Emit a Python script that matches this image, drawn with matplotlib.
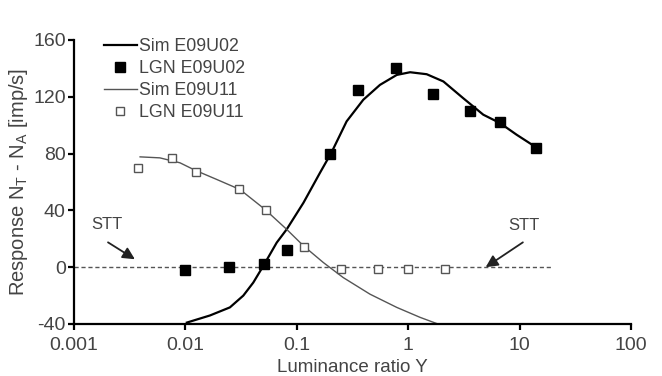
import matplotlib
matplotlib.use("Agg")
import matplotlib.pyplot as plt
from matplotlib.lines import Line2D

plt.rcParams['font.family'] = ['Liberation Sans', 'DejaVu Sans']
plt.rcParams['axes.unicode_minus'] = False

# Data
sim02_x = [0.0103, 0.0166, 0.0251, 0.0331, 0.0407, 0.051, 0.066, 0.0812, 0.1148, 0.1615, 0.2055,
           0.28, 0.395, 0.558, 0.789, 1.04, 1.466, 2.07, 3.12, 4.72, 6.67, 9.4, 13.7]
sim02_y = [-39, -34, -28.3, -20, -10.8, 2, 17.3, 26.7, 45.4, 66.5, 81,
           102.7, 117.9, 128.4, 135.4, 137.3, 135.9, 130.8, 119, 107.4, 101.5, 93.3, 85]

lgn02_x = [0.01, 0.0245, 0.051, 0.082, 0.2, 0.354, 0.78, 1.67, 3.6, 6.7, 14.0]
lgn02_y = [-2, 0, 2, 12, 80, 125, 140, 122, 110, 102, 84]

sim11_x = [0.00392, 0.0059, 0.00895, 0.0122, 0.0191, 0.0309, 0.0518, 0.081, 0.115, 0.173,
           0.261, 0.454, 0.789, 1.276, 1.85]
sim11_y = [77.7, 77, 73.5, 68.3, 61.8, 54.7, 40.7, 26.7, 15, 3.3,
           -7.3, -19, -28.3, -35.3, -40]

lgn11_x = [0.00376, 0.0076, 0.0124, 0.0303, 0.053, 0.116, 0.249, 0.535, 1.0, 2.14]
lgn11_y = [70, 77, 67, 55, 40, 14, -1.5, -1.5, -1.5, -1.5]

stt_x = [0.001, 20]
stt_y = [0, 0]

# STT labels: text position, arrow start, arrow tip
stt_text = [(0.00198, 30), (11, 29.5)]
stt_from = [(0.00202, 17.5), (10.7, 17.5)]
stt_tip = [(0.00352, 5.6), (4.96, 0)]

xticks = [0.001, 0.01, 0.1, 1, 10, 100]
xticklabels = ['0.001', '0.01', '0.1', '1', '10', '100']
yticks = [-40, 0, 40, 80, 120, 160]

txt = '#444444'

fig = plt.figure(figsize=(6.62, 3.76), dpi=100)
ax = fig.add_axes([74/662, 1-324/376, (631-74)/662, (324-40)/376])

ax.plot(stt_x, stt_y, ls=(0, (3, 2)), color='#555555', lw=1.0, zorder=1)
ax.plot(sim02_x, sim02_y, color='black', lw=1.6, zorder=2)
ax.plot(sim11_x, sim11_y, color='#555555', lw=1.0, zorder=2)
ax.plot(lgn02_x, lgn02_y, ls='none', marker='s', ms=6.8, mfc='black', mec='black', zorder=3)
ax.plot(lgn11_x, lgn11_y, ls='none', marker='s', ms=6.2, mfc='white', mec='#555555', mew=1.0, zorder=3)

ax.set_xscale('log')
ax.set_xlim(0.001, 100)
ax.set_ylim(-40, 160)
ax.set_xticks(xticks)
ax.set_xticklabels(xticklabels)
ax.minorticks_off()
ax.set_yticks(yticks)

for s in ['top', 'right']:
    ax.spines[s].set_visible(False)
for s in ['left', 'bottom']:
    ax.spines[s].set_linewidth(1.6)
ax.tick_params(axis='both', direction='out', length=4, width=1.6, labelsize=14, colors='black', labelcolor=txt)
ax.tick_params(axis='x', pad=5)
ax.tick_params(axis='y', pad=2)

ax.set_ylabel(r'Response N$_\mathregular{T}$ - N$_\mathregular{A}$ [imp/s]', fontsize=14.5, color=txt, labelpad=2)
ax.set_xlabel('Luminance ratio Y', fontsize=13.5, color=txt, labelpad=4)

# STT annotations
for (tx, ty), (fx, fy), (px, py) in zip(stt_text, stt_from, stt_tip):
    ax.text(tx, ty, 'STT', fontsize=12, color=txt, ha='center', va='center')
    ax.annotate('', xy=(px, py), xytext=(fx, fy),
                arrowprops=dict(arrowstyle='-|>', color='#222222', lw=1.3, mutation_scale=18,
                                shrinkA=0, shrinkB=0))

handles = [
    Line2D([], [], color='black', lw=1.6),
    Line2D([], [], ls='none', marker='s', ms=6.8, mfc='black', mec='black'),
    Line2D([], [], color='#555555', lw=1.0),
    Line2D([], [], ls='none', marker='s', ms=6.2, mfc='white', mec='#555555'),
]
labels = ['Sim E09U02', 'LGN E09U02', 'Sim E09U11', 'LGN E09U11']
leg = ax.legend(handles, labels, loc='upper left', bbox_to_anchor=(95/662, 1-29/376),
                bbox_transform=fig.transFigure, frameon=False, fontsize=12.8,
                handlelength=1.85, handletextpad=0.15, labelspacing=0.28, borderpad=0)
for t in leg.get_texts():
    t.set_color(txt)

fig.savefig('out.png', dpi=100)
